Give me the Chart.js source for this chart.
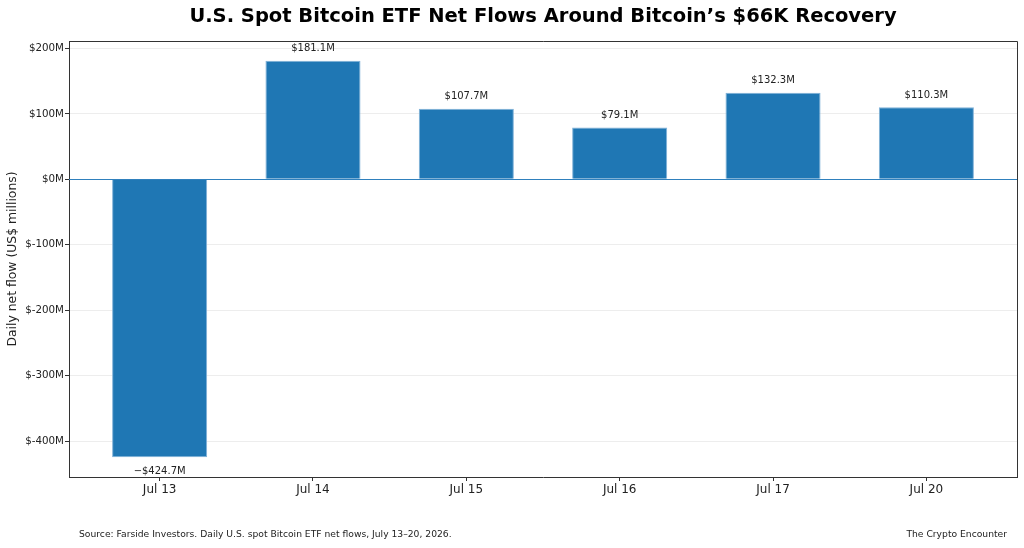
<!DOCTYPE html>
<html>
<head>
<meta charset="utf-8">
<script src="https://cdn.jsdelivr.net/npm/chart.js@4.4.0/dist/chart.umd.min.js"></script>
<style>
  html, body { margin: 0; padding: 0; background: #fff; }
  #wrap { width: 1024px; height: 548px; }
</style>
</head>
<body>
<div id="wrap"><canvas id="flows" width="1024" height="548"></canvas></div>
<script>
// daily net flows, US$ millions
const days = ["Jul 13", "Jul 14", "Jul 15", "Jul 16", "Jul 17", "Jul 20"];
const netFlows = [-424.7, 181.1, 107.7, 79.1, 132.3, 110.3];
const flowLabels = ["\u2212$424.7M", "$181.1M", "$107.7M", "$79.1M", "$132.3M", "$110.3M"];
const yTicks = [-400, -300, -200, -100, 0, 100, 200];

const FONT = "'DejaVu Sans', sans-serif";
const BLUE = "#1f77b4";

const extras = {
  id: "extras",
  afterDatasetsDraw(chart) {
    const { ctx, chartArea: a, scales } = chart;
    ctx.save();
    // zero line
    const y0 = Math.round(scales.y.getPixelForValue(0)) + 0.5;
    ctx.strokeStyle = "#2f80bd";
    ctx.lineWidth = 1.2;
    ctx.beginPath();
    ctx.moveTo(a.left, y0);
    ctx.lineTo(a.right, y0);
    ctx.stroke();

    // value labels
    ctx.font = "10px " + FONT;
    ctx.fillStyle = "#222";
    ctx.textAlign = "center";
    const bars = chart.getDatasetMeta(0).data;
    netFlows.forEach((v, i) => {
      const b = bars[i];
      if (v >= 0) {
        ctx.textBaseline = "bottom";
        ctx.fillText(flowLabels[i], b.x, b.y - 7);
      } else {
        ctx.textBaseline = "top";
        ctx.fillText(flowLabels[i], b.x, b.y + 9);
      }
    });
    ctx.restore();
  },
  afterDraw(chart) {
    const { ctx, chartArea: a } = chart;
    ctx.save();
    // top and right spines
    ctx.strokeStyle = "#333";
    ctx.lineWidth = 1;
    ctx.beginPath();
    ctx.moveTo(Math.round(a.left), Math.round(a.top) + 0.5);
    ctx.lineTo(Math.round(a.right) + 0.5, Math.round(a.top) + 0.5);
    ctx.lineTo(Math.round(a.right) + 0.5, Math.round(a.bottom));
    ctx.stroke();

    // title
    ctx.fillStyle = "#000";
    ctx.textAlign = "center";
    ctx.textBaseline = "middle";
    ctx.font = "bold 19.5px " + FONT;
    ctx.fillText("U.S. Spot Bitcoin ETF Net Flows Around Bitcoin\u2019s $66K Recovery", (a.left + a.right) / 2, 17);

    // y axis title
    ctx.save();
    ctx.translate(13, (a.top + a.bottom) / 2);
    ctx.rotate(-Math.PI / 2);
    ctx.font = "12.4px " + FONT;
    ctx.fillStyle = "#222";
    ctx.fillText("Daily net flow (US$ millions)", 0, 0);
    ctx.restore();

    // footer
    ctx.font = "9.2px " + FONT;
    ctx.fillStyle = "#222";
    ctx.textAlign = "left";
    ctx.fillText("Source: Farside Investors. Daily U.S. spot Bitcoin ETF net flows, July 13\u201320, 2026.", 79, 535);
    ctx.textAlign = "right";
    ctx.fillText("The Crypto Encounter", 1007, 535);
    ctx.restore();
  }
};

new Chart(document.getElementById("flows").getContext("2d"), {
  type: "bar",
  data: {
    datasets: [{
      data: netFlows.map((v, i) => ({ x: i, y: v })),
      backgroundColor: BLUE,
      borderColor: "#7fb1d8",
      borderWidth: 1,
      barPercentage: 0.62,
      categoryPercentage: 1
    }]
  },
  options: {
    responsive: false,
    animation: false,
    layout: { padding: { left: 0, right: 7, top: 41, bottom: 0 } },
    plugins: { legend: { display: false }, tooltip: { enabled: false } },
    scales: {
      x: {
        type: "linear",
        offset: false,
        min: -0.591,
        max: 5.591,
        afterBuildTicks: (s) => { s.ticks = days.map((d, i) => ({ value: i })); },
        afterFit: (s) => { s.height = 71; },
        ticks: {
          callback: (v) => days[v],
          font: { family: FONT, size: 12 },
          color: "#222",
          padding: 2,
          autoSkip: false,
          maxRotation: 0
        },
        grid: { offset: false, drawOnChartArea: false, drawTicks: true, tickLength: 4, tickColor: "#333" },
        border: { display: true, color: "#333", width: 1 }
      },
      y: {
        min: -455,
        max: 211.4,
        afterBuildTicks: (s) => { s.ticks = yTicks.map((v) => ({ value: v })); },
        afterFit: (s) => { s.width = 69; },
        ticks: {
          callback: (v) => "$" + v + "M",
          font: { family: FONT, size: 10.3 },
          color: "#222",
          padding: 1
        },
        grid: { color: "rgba(0,0,0,0.07)", tickLength: 4, tickColor: "#333" },
        border: { display: true, color: "#333", width: 1 }
      }
    }
  },
  plugins: [extras]
});
</script>
</body>
</html>
